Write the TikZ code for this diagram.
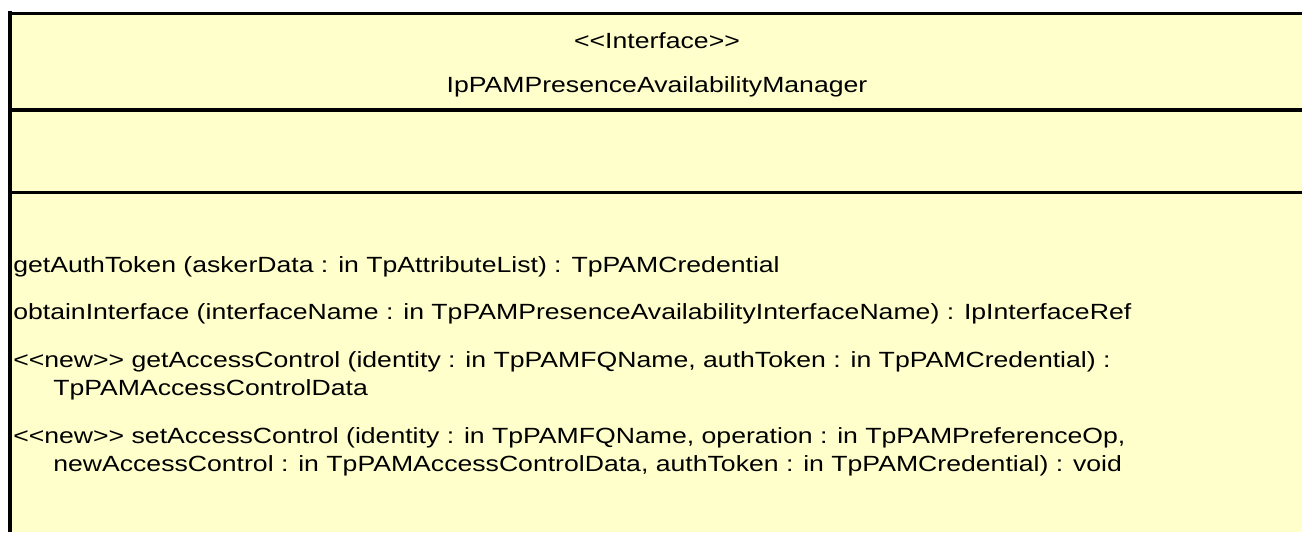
\documentclass[tikz,border=0pt]{standalone}
\usepackage{fontspec}
\setmainfont[FakeStretch=1.21]{Liberation Sans}
\definecolor{IfaceClr}{HTML}{FFFFCC}

\begin{document}
\begin{tikzpicture}[x=0.75pt,y=-0.75pt,
  umltext/.style={inner sep=0pt,font=\fontsize{16.5}{20}\selectfont},
  optext/.style={umltext,anchor=base west}]
\useasboundingbox (0,0) rectangle (1302,532);

% class box
\fill[IfaceClr] (10,13) rectangle (1302,532);
\draw[line width=3pt] (10,11) -- (10,532);
\draw[line width=2.2pt] (10,13.5) -- (1302,13.5);
\draw[line width=2.8pt] (10,110) -- (1302,110);
\draw[line width=2.2pt] (10,192.5) -- (1302,192.5);

% name compartment
\node[umltext,anchor=base] (stereo) at (657,48) {<{}<Interface>{}>};
\node[umltext,anchor=base] (name) at (657,92) {IpPAMPresenceAvailabilityManager};

% operations
\node[optext] (getAuth) at (13,272) {getAuthToken (askerData : in TpAttributeList) : TpPAMCredential};
\node[optext] (obtain) at (13,319) {obtainInterface (interfaceName : in TpPAMPresenceAvailabilityInterfaceName) : IpInterfaceRef};
\node[optext] (getAcc) at (13,367) {<{}<new>{}> getAccessControl (identity : in TpPAMFQName, authToken : in TpPAMCredential) :};
\node[optext] (getAccB) at (53,395) {TpPAMAccessControlData};
\node[optext] (setAcc) at (13,443) {<{}<new>{}> setAccessControl (identity : in TpPAMFQName, operation : in TpPAMPreferenceOp,};
\node[optext] (setAccB) at (53,471) {newAccessControl : in TpPAMAccessControlData, authToken : in TpPAMCredential) : void};
\end{tikzpicture}
\end{document}
